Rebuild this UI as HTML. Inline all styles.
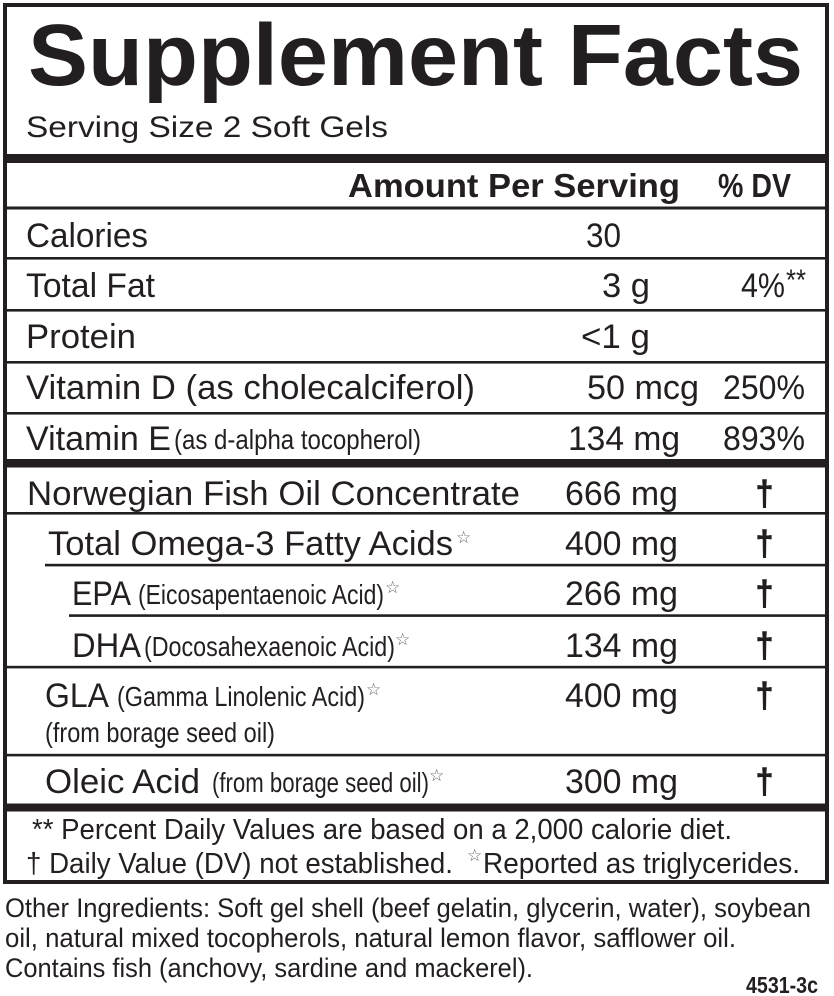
<!DOCTYPE html>
<html>
<head>
<meta charset="utf-8">
<style>
  html, body { margin: 0; padding: 0; background: #ffffff; }
  body { width: 834px; height: 996px; overflow: hidden; }
  svg { display: block; }
  text { font-family: "Liberation Sans", "DejaVu Sans", sans-serif; fill: #231f20; }
  .b { font-weight: bold; }
  .st { font-family: "DejaVu Sans", sans-serif; font-size: 17px; fill: #666; }
  .dg { font-size: 34px; stroke: #231f20; stroke-width: 1.5px; }
</style>
</head>
<body>
<svg width="834" height="996" viewBox="0 0 834 996" xmlns="http://www.w3.org/2000/svg">
  <rect x="0" y="0" width="834" height="996" fill="#ffffff"/>
  <!-- outer border -->
  <rect x="5" y="5" width="822" height="877" fill="none" stroke="#231f20" stroke-width="4"/>
  <!-- thick bars -->
  <rect x="5" y="154" width="822" height="9" fill="#231f20"/>
  <rect x="5" y="459" width="822" height="8.5" fill="#231f20"/>
  <rect x="5" y="803.5" width="822" height="8" fill="#231f20"/>
  <!-- thin lines -->
  <rect x="5" y="206.5" width="822" height="3" fill="#231f20"/>
  <rect x="5" y="257" width="822" height="2.6" fill="#231f20"/>
  <rect x="5" y="309" width="822" height="2.6" fill="#231f20"/>
  <rect x="5" y="361" width="822" height="2.6" fill="#231f20"/>
  <rect x="5" y="412" width="822" height="2.6" fill="#231f20"/>
  <rect x="5" y="512" width="822" height="2.6" fill="#231f20"/>
  <rect x="45" y="563.8" width="782" height="2.6" fill="#231f20"/>
  <rect x="69" y="614.3" width="758" height="2.6" fill="#231f20"/>
  <rect x="5" y="665.8" width="822" height="2.6" fill="#231f20"/>
  <rect x="5" y="753.8" width="822" height="2.6" fill="#231f20"/>

  <!-- title -->
  <text class="b" x="28" y="85" font-size="87" textLength="775" lengthAdjust="spacingAndGlyphs">Supplement Facts</text>
  <text x="26" y="137" font-size="30" textLength="362" lengthAdjust="spacingAndGlyphs">Serving Size 2 Soft Gels</text>

  <!-- header -->
  <text class="b" x="348" y="197" font-size="33" textLength="332" lengthAdjust="spacingAndGlyphs">Amount Per Serving</text>
  <text class="b" x="718" y="197" font-size="33" textLength="73" lengthAdjust="spacingAndGlyphs">% DV</text>

  <!-- Calories -->
  <text x="26" y="247" font-size="34" textLength="122" lengthAdjust="spacingAndGlyphs">Calories</text>
  <text x="586" y="247" font-size="34" textLength="35" lengthAdjust="spacingAndGlyphs">30</text>

  <!-- Total Fat -->
  <text x="26" y="297" font-size="34" textLength="129" lengthAdjust="spacingAndGlyphs">Total Fat</text>
  <text x="602" y="297" font-size="34" textLength="48" lengthAdjust="spacingAndGlyphs">3 g</text>
  <text x="741" y="297" font-size="34" textLength="44" lengthAdjust="spacingAndGlyphs">4%</text>
  <text x="786" y="290" font-size="30" textLength="20" lengthAdjust="spacingAndGlyphs">**</text>

  <!-- Protein -->
  <text x="26" y="348" font-size="34" textLength="110" lengthAdjust="spacingAndGlyphs">Protein</text>
  <text x="581" y="348" font-size="34" textLength="69" lengthAdjust="spacingAndGlyphs">&lt;1 g</text>

  <!-- Vitamin D -->
  <text x="26" y="399" font-size="34" textLength="449" lengthAdjust="spacingAndGlyphs">Vitamin D (as cholecalciferol)</text>
  <text x="587" y="399" font-size="34" textLength="112" lengthAdjust="spacingAndGlyphs">50 mcg</text>
  <text x="723" y="399" font-size="34" textLength="82" lengthAdjust="spacingAndGlyphs">250%</text>

  <!-- Vitamin E -->
  <text x="26" y="450" font-size="34" textLength="145" lengthAdjust="spacingAndGlyphs">Vitamin E</text>
  <text x="174" y="449" font-size="28" textLength="247" lengthAdjust="spacingAndGlyphs">(as d-alpha tocopherol)</text>
  <text x="568" y="450" font-size="34" textLength="112" lengthAdjust="spacingAndGlyphs">134 mg</text>
  <text x="723" y="450" font-size="34" textLength="82" lengthAdjust="spacingAndGlyphs">893%</text>

  <!-- Norwegian -->
  <text x="27" y="505" font-size="34" textLength="493" lengthAdjust="spacingAndGlyphs">Norwegian Fish Oil Concentrate</text>
  <text x="565" y="505" font-size="34" textLength="113" lengthAdjust="spacingAndGlyphs">666 mg</text>
  <text class="dg" x="756" y="505" textLength="17" lengthAdjust="spacingAndGlyphs">†</text>

  <!-- Omega-3 -->
  <text x="48" y="555" font-size="34" textLength="405" lengthAdjust="spacingAndGlyphs">Total Omega-3 Fatty Acids</text>
  <text class="st" x="456" y="543">☆</text>
  <text x="565" y="555" font-size="34" textLength="113" lengthAdjust="spacingAndGlyphs">400 mg</text>
  <text class="dg" x="756" y="555" textLength="17" lengthAdjust="spacingAndGlyphs">†</text>

  <!-- EPA -->
  <text x="72" y="605" font-size="34" textLength="59" lengthAdjust="spacingAndGlyphs">EPA</text>
  <text x="138" y="604" font-size="28" textLength="246" lengthAdjust="spacingAndGlyphs">(Eicosapentaenoic Acid)</text>
  <text class="st" x="385" y="593">☆</text>
  <text x="565" y="605" font-size="34" textLength="113" lengthAdjust="spacingAndGlyphs">266 mg</text>
  <text class="dg" x="756" y="605" textLength="17" lengthAdjust="spacingAndGlyphs">†</text>

  <!-- DHA -->
  <text x="72" y="657" font-size="34" textLength="69" lengthAdjust="spacingAndGlyphs">DHA</text>
  <text x="144" y="656" font-size="28" textLength="251" lengthAdjust="spacingAndGlyphs">(Docosahexaenoic Acid)</text>
  <text class="st" x="395" y="645">☆</text>
  <text x="565" y="657" font-size="34" textLength="113" lengthAdjust="spacingAndGlyphs">134 mg</text>
  <text class="dg" x="756" y="657" textLength="17" lengthAdjust="spacingAndGlyphs">†</text>

  <!-- GLA -->
  <text x="45" y="707" font-size="34" textLength="64" lengthAdjust="spacingAndGlyphs">GLA</text>
  <text x="117" y="706" font-size="28" textLength="248" lengthAdjust="spacingAndGlyphs">(Gamma Linolenic Acid)</text>
  <text class="st" x="366" y="695">☆</text>
  <text x="45" y="742" font-size="28" textLength="230" lengthAdjust="spacingAndGlyphs">(from borage seed oil)</text>
  <text x="565" y="707" font-size="34" textLength="113" lengthAdjust="spacingAndGlyphs">400 mg</text>
  <text class="dg" x="756" y="707" textLength="17" lengthAdjust="spacingAndGlyphs">†</text>

  <!-- Oleic -->
  <text x="45" y="793" font-size="34" textLength="155" lengthAdjust="spacingAndGlyphs">Oleic Acid</text>
  <text x="212" y="792" font-size="28" textLength="217" lengthAdjust="spacingAndGlyphs">(from borage seed oil)</text>
  <text class="st" x="429" y="781">☆</text>
  <text x="565" y="793" font-size="34" textLength="113" lengthAdjust="spacingAndGlyphs">300 mg</text>
  <text class="dg" x="756" y="793" textLength="17" lengthAdjust="spacingAndGlyphs">†</text>

  <!-- footnotes -->
  <text x="32" y="839" font-size="29" textLength="700" lengthAdjust="spacingAndGlyphs">** Percent Daily Values are based on a 2,000 calorie diet.</text>
  <text x="26" y="873" font-size="29" textLength="427" lengthAdjust="spacingAndGlyphs">† Daily Value (DV) not established.</text>
  <text class="st" x="467" y="861" font-size="14">☆</text>
  <text x="483" y="873" font-size="29" textLength="317" lengthAdjust="spacingAndGlyphs">Reported as triglycerides.</text>

  <!-- other ingredients -->
  <text x="5" y="917" font-size="27" textLength="806" lengthAdjust="spacingAndGlyphs">Other Ingredients: Soft gel shell (beef gelatin, glycerin, water), soybean</text>
  <text x="5" y="947" font-size="27" textLength="731" lengthAdjust="spacingAndGlyphs">oil, natural mixed tocopherols, natural lemon flavor, safflower oil.</text>
  <text x="5" y="977" font-size="27" textLength="528" lengthAdjust="spacingAndGlyphs">Contains fish (anchovy, sardine and mackerel).</text>
  <text class="b" x="746" y="993" font-size="23" textLength="72" lengthAdjust="spacingAndGlyphs">4531-3c</text>
</svg>
</body>
</html>
